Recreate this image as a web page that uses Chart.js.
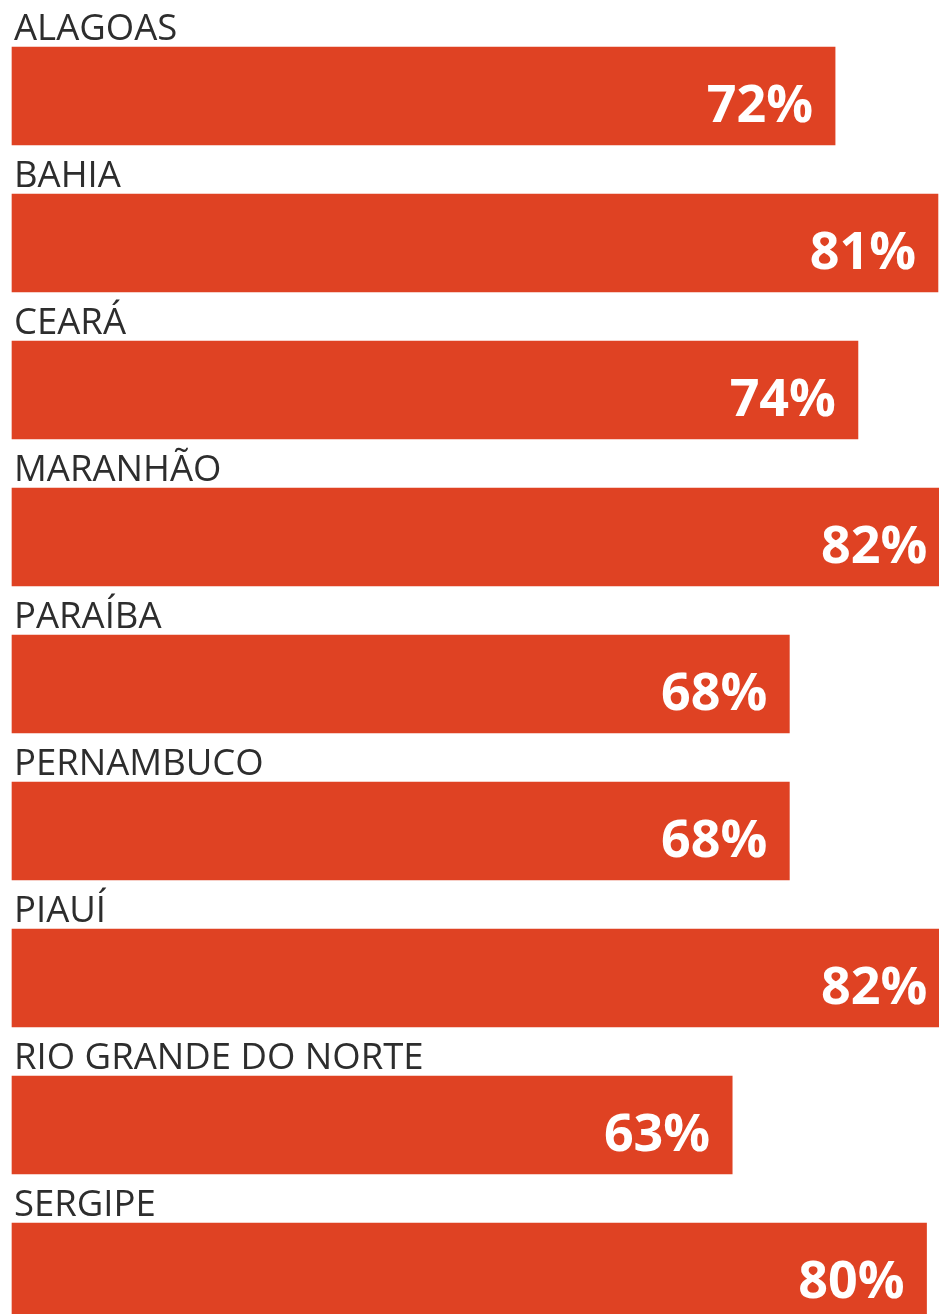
<!DOCTYPE html>
<html>
<head>
<meta charset="utf-8">
<script src="https://cdn.jsdelivr.net/npm/chart.js@4"></script>
<style>
html,body{margin:0;padding:0;background:#fff;}
#wrap{width:939px;height:1314px;position:relative;}
</style>
</head>
<body>
<div id="wrap"><canvas id="c"></canvas></div>
<script>
const categories = ["ALAGOAS","BAHIA","CEARÁ","MARANHÃO","PARAÍBA","PERNAMBUCO","PIAUÍ","RIO GRANDE DO NORTE","SERGIPE"];
const values = [72, 81, 74, 82, 68, 68, 82, 63, 80];
const valueLabels = ["72%","81%","74%","82%","68%","68%","82%","63%","80%"];

const labelPlugin = {
  id: 'labels',
  afterDatasetsDraw(chart) {
    const ctx = chart.ctx;
    const meta = chart.getDatasetMeta(0);
    ctx.save();
    meta.data.forEach((bar, i) => {
      const top = bar.y - bar.height / 2;
      ctx.fillStyle = '#2d2d2d';
      ctx.font = '36.5px "Open Sans"';
      ctx.textAlign = 'left';
      ctx.textBaseline = 'alphabetic';
      ctx.fillText(categories[i], 14, top - 7);
      ctx.fillStyle = '#ffffff';
      ctx.font = 'bold 52px "Open Sans"';
      ctx.textAlign = 'right';
      ctx.fillText(valueLabels[i], bar.x - 22, bar.y + 26);
    });
    ctx.restore();
  }
};

new Chart(document.getElementById('c'), {
  type: 'bar',
  data: {
    labels: categories,
    datasets: [{
      data: values,
      backgroundColor: '#df4223',
      borderWidth: 0,
      barThickness: 98,
      clip: false
    }]
  },
  options: {
    indexAxis: 'y',
    responsive: true,
    maintainAspectRatio: false,
    animation: false,
    layout: { padding: { left: 12, right: 0, top: 96, bottom: 42 } },
    plugins: { legend: { display: false }, tooltip: { enabled: false } },
    scales: {
      x: { display: false, min: 0, max: 81.09 },
      y: { display: false, offset: false }
    }
  },
  plugins: [labelPlugin]
});
</script>
</body>
</html>
